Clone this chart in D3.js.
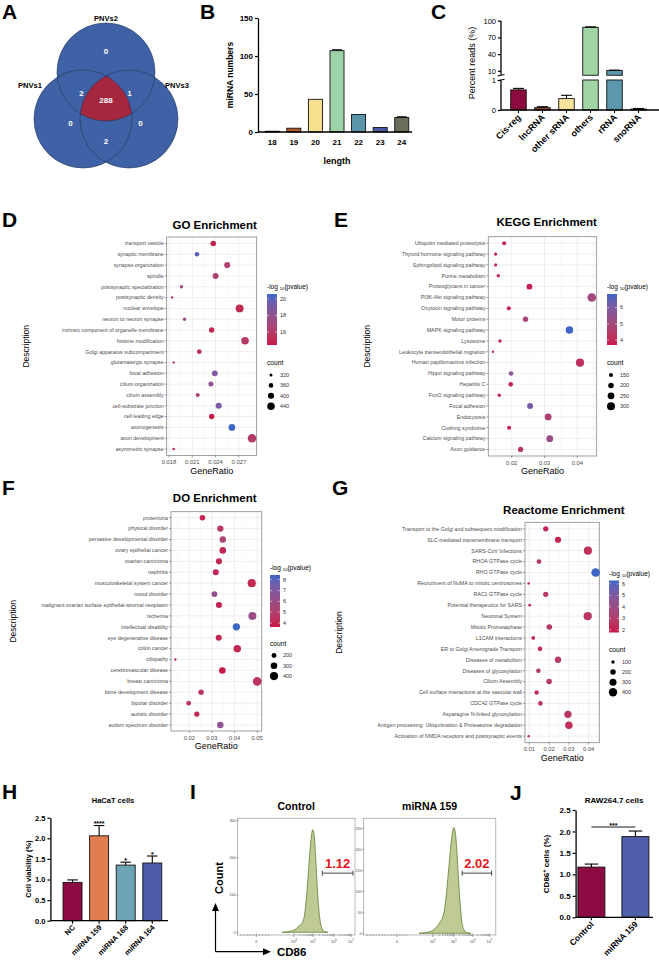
<!DOCTYPE html>
<html>
<head>
<meta charset="utf-8">
<script src="https://cdn.jsdelivr.net/npm/d3@7"></script>
<style>
  body { margin: 0; background: #fff; }
  svg { display: block; }
</style>
</head>
<body>
<div id="root"></div>
<script>
// ---------------- data ----------------
var vennSets = ['PNVs1', 'PNVs2', 'PNVs3'];
var vennRegions = ['PNVs2 only', 'PNVs1&PNVs2', 'PNVs2&PNVs3', 'all', 'PNVs1 only', 'PNVs3 only', 'PNVs1&PNVs3'];
var vennValues = [0, 2, 1, 288, 0, 0, 2];

var lengthCats = ['18', '19', '20', '21', '22', '23', '24'];
var lengthCounts = [1, 5, 43, 107, 23, 6, 19];
var lengthErr = [0, 0, 0, 1.2, 0, 0, 1.0];
var lengthTicks = [0, 50, 100, 150];

var readCats = ['Cis-reg', 'lncRNA', 'other sRNA', 'others', 'rRNA', 'snoRNA'];
var readPct = [0.67, 0.08, 0.38, 88, 10.5, 0.03];
var readErr = [0.05, 0.03, 0.11, 1.0, 0.7, 0.02];
var readTicksLow = [0, 1];
var readTicksHigh = [10, 40, 70, 100];

var goTerms = ['transport vesicle', 'synaptic membrane', 'synapse organization', 'spindle',
  'postsynaptic specialization', 'postsynaptic density', 'nuclear envelope', 'neuron to neuron synapse',
  'intrinsic component of organelle membrane', 'histone modification', 'Golgi apparatus subcompartment',
  'glutamatergic synapse', 'focal adhesion', 'cilium organization', 'cilium assembly',
  'cell-substrate junction', 'cell leading edge', 'axonogenesis', 'axon development', 'asymmetric synapse'];
var goRatio = [0.0237, 0.0216, 0.0255, 0.0240, 0.0196, 0.0184, 0.0271, 0.0200, 0.0235, 0.0278,
  0.0219, 0.0186, 0.0239, 0.0234, 0.0217, 0.0244, 0.0235, 0.0261, 0.0287, 0.0186];
var goCount = [385, 360, 400, 395, 330, 305, 450, 330, 380, 440, 360, 305, 390, 370, 345, 400, 380, 415, 470, 310];
var goLogP = [15.0, 20.0, 16.3, 16.5, 17.2, 16.2, 15.0, 17.3, 14.9, 15.7, 15.3, 16.5, 18.8, 18.0, 16.6, 19.0, 14.4, 20.6, 16.0, 15.6];
var goXTicks = [0.018, 0.021, 0.024, 0.027];
var goPTicks = [16, 18, 20];
var goCountTicks = [320, 360, 400, 440];

var keggTerms = ['Ubiquitin mediated proteolysis', 'Thyroid hormone signaling pathway', 'Sphingolipid signaling pathway',
  'Purine metabolism', 'Proteoglycans in cancer', 'PI3K-Akt signaling pathway', 'Oxytocin signaling pathway',
  'Motor proteins', 'MAPK signaling pathway', 'Lysosome', 'Leukocyte transendothelial migration',
  'Human papillomavirus infection', 'Hippo signaling pathway', 'Hepatitis C', 'FoxO signaling pathway',
  'Focal adhesion', 'Endocytosis', 'Cushing syndrome', 'Calcium signaling pathway', 'Axon guidance'];
var keggRatio = [0.0177, 0.0151, 0.0151, 0.0159, 0.0254, 0.0444, 0.0191, 0.0242, 0.0376, 0.0164,
  0.0143, 0.0408, 0.0198, 0.0197, 0.0162, 0.0256, 0.0311, 0.0192, 0.0316, 0.0227];
var keggCount = [150, 120, 120, 130, 210, 330, 150, 190, 280, 130, 100, 310, 165, 165, 130, 215, 250, 150, 255, 190];
var keggLogP = [3.9, 3.7, 4.0, 4.0, 3.9, 5.0, 3.9, 5.0, 6.83, 4.0, 4.0, 4.2, 5.7, 3.9, 3.9, 6.1, 4.7, 3.9, 5.3, 4.4];
var keggXTicks = [0.02, 0.03, 0.04];
var keggPTicks = [4, 5, 6];
var keggCountTicks = [150, 200, 250, 300];

var doTerms = ['proteinuria', 'physical disorder', 'pervasive developmental disorder', 'ovary epithelial cancer',
  'ovarian carcinoma', 'nephritis', 'musculoskeletal system cancer', 'mood disorder',
  'malignant ovarian surface epithelial-stromal neoplasm', 'ischemia', 'intellectual disability',
  'eye degenerative disease', 'colon cancer', 'ciliopathy', 'cerebrovascular disease', 'breast carcinoma',
  'bone development disease', 'bipolar disorder', 'autistic disorder', 'autism spectrum disorder'];
var doRatio = [0.0258, 0.0337, 0.0348, 0.0348, 0.0331, 0.0317, 0.0476, 0.0311, 0.0331, 0.0479,
  0.0408, 0.0330, 0.0412, 0.0138, 0.0346, 0.0500, 0.0252, 0.0197, 0.0233, 0.0337];
var doCount = [240, 280, 290, 300, 270, 265, 400, 250, 270, 390, 340, 270, 350, 100, 300, 430, 235, 200, 225, 290];
var doLogP = [3.9, 4.8, 5.3, 4.1, 4.1, 4.0, 4.1, 6.3, 4.0, 6.1, 8.43, 4.0, 4.1, 4.2, 3.63, 4.5, 4.6, 4.7, 4.1, 6.5];
var doXTicks = [0.02, 0.03, 0.04, 0.05];
var doPTicks = [4, 5, 6, 7, 8];
var doCountTicks = [200, 300, 400];

var reactTerms = ['Transport to the Golgi and subsequent modification', 'SLC-mediated transmembrane transport',
  'SARS-CoV Infections', 'RHOA GTPase cycle', 'RHO GTPase cycle', 'Recruitment of NuMA to mitotic centrosomes',
  'RAC1 GTPase cycle', 'Potential therapeutics for SARS', 'Neuronal System', 'Mitotic Prometaphase',
  'L1CAM interactions', 'ER to Golgi Anterograde Transport', 'Diseases of metabolism', 'Diseases of glycosylation',
  'Cilium Assembly', 'Cell surface interactions at the vascular wall', 'CDC42 GTPase cycle',
  'Asparagine N-linked glycosylation', 'Antigen processing: Ubiquitination & Proteasome degradation',
  'Activation of NMDA receptors and postsynaptic events'];
var reactRatio = [0.0183, 0.0245, 0.0396, 0.0149, 0.0435, 0.0097, 0.0183, 0.0102, 0.0395, 0.0201,
  0.0120, 0.0154, 0.0245, 0.0146, 0.0200, 0.0137, 0.0156, 0.0295, 0.0300, 0.0097];
var reactCount = [190, 240, 380, 160, 420, 60, 185, 70, 390, 205, 110, 150, 250, 150, 200, 140, 155, 320, 330, 60];
var reactLogP = [2.2, 2.1, 2.4, 3.0, 6.29, 1.77, 2.8, 2.0, 2.7, 2.9, 2.2, 2.3, 2.9, 2.8, 2.8, 2.3, 2.8, 2.8, 2.4, 2.1];
var reactXTicks = [0.01, 0.02, 0.03, 0.04];
var reactPTicks = [2, 3, 4, 5, 6];
var reactCountTicks = [100, 200, 300, 400];

var hacatGroups = ['NC', 'miRNA 159', 'miRNA 168', 'miRNA 164'];
var hacatMean = [0.93, 2.06, 1.35, 1.40];
var hacatErr = [0.06, 0.25, 0.07, 0.17];
var hacatSig = ['', '****', '*', '*'];
var hacatTicks = [0, 0.5, 1.0, 1.5, 2.0, 2.5];

var flowSamples = ['Control', 'miRNA 159'];
var flowGatePct = ['1.12', '2.02'];
var flowXTickLabels = ['0', '10|4', '10|5', '10|6', '10|7'];
var ctrlTickChannel = [161, 481, 643, 821, 966];
var mirTickChannel = [254, 524, 683, 826, 952];
var ctrlYTicks = [0, 100, 200, 300];
var mirYTicks = [0, 50, 100, 150, 200, 250];
var ctrlChannel = [380, 420, 450, 480, 505, 525, 540, 555, 570, 585, 600, 615, 628, 640, 652, 664, 676, 690, 705, 720, 740, 770];
var ctrlCount = [0, 1, 3, 6, 11, 17, 21, 28, 45, 85, 145, 210, 255, 276, 262, 210, 140, 70, 28, 9, 2, 0];
var mirChannel = [420, 460, 490, 520, 545, 565, 580, 595, 610, 625, 640, 655, 670, 683, 695, 707, 719, 732, 745, 760, 780, 810];
var mirCount = [0, 1, 3, 6, 12, 20, 27, 35, 52, 88, 138, 190, 235, 252, 238, 190, 125, 65, 25, 8, 2, 0];
var ctrlGate = [722, 983];
var mirGate = [746, 968];

var rawGroups = ['Control', 'miRNA 159'];
var rawMean = [1.17, 1.88];
var rawErr = [0.07, 0.13];
var rawSig = '***';
var rawTicks = [0, 0.5, 1.0, 1.5, 2.0, 2.5];

// ---------------- setup ----------------
var FONT = "'Liberation Sans', Arial, Helvetica, sans-serif";
var svg = d3.select('#root').append('svg')
  .attr('width', 659)
  .attr('height', 962)
  .style('font-family', FONT);
svg.append('rect').attr('width', 659).attr('height', 962).attr('fill', '#fff');
var defs = svg.append('defs');

var letters = [['A', 2, 19], ['B', 200, 19], ['C', 431, 19], ['D', 2, 227], ['E', 334, 227],
  ['F', 2, 495], ['G', 332, 495], ['H', 2, 799], ['I', 190, 799], ['J', 510, 800]];
svg.selectAll('text.letter')
  .data(letters)
  .join('text')
    .attr('class', 'letter')
    .attr('x', d => d[1])
    .attr('y', d => d[2])
    .attr('font-size', 21)
    .attr('font-weight', 'bold')
    .text(d => d[0]);

// GraphPad-like left axis
function gpAxisLeft(g, scale, ticks, x, fmt, fs, bold, keepDomain) {
  var ax = g.append('g')
    .attr('transform', 'translate(' + x + ',0)')
    .call(d3.axisLeft(scale).tickValues(ticks).tickFormat(fmt).tickSize(3).tickSizeOuter(0).tickPadding(2));
  ax.attr('font-family', null).attr('font-size', null);
  if (keepDomain) ax.select('.domain').attr('stroke', '#000').attr('stroke-width', 1.3);
  else ax.select('.domain').remove();
  ax.selectAll('.tick line').attr('stroke', '#000').attr('stroke-width', 1.2);
  ax.selectAll('.tick text').attr('font-size', fs).attr('font-weight', bold ? 'bold' : 'normal').attr('fill', '#000');
  return ax;
}

function errBars(g, cxs, tops, ends, w) {
  g.selectAll('line.err')
    .data(cxs)
    .join('line')
      .attr('class', 'err')
      .attr('x1', d => d).attr('x2', d => d)
      .attr('y1', (d, i) => tops[i]).attr('y2', (d, i) => ends[i])
      .attr('stroke', '#000').attr('stroke-width', 1.1);
  g.selectAll('line.cap')
    .data(cxs)
    .join('line')
      .attr('class', 'cap')
      .attr('x1', d => d - w / 2).attr('x2', d => d + w / 2)
      .attr('y1', (d, i) => ends[i]).attr('y2', (d, i) => ends[i])
      .attr('stroke', '#000').attr('stroke-width', 1.1);
}

// ---------------- A : Venn ----------------
var vR = 49;
var vC = [{x: 83, y: 119}, {x: 106, y: 72}, {x: 129, y: 119}];
var vennLabelAt = [[106, 51], [81.5, 93], [129.5, 93], [106, 100], [70.5, 123], [140.5, 123], [106, 141]];
var aG = svg.append('g');
defs.append('clipPath').attr('id', 'clipL').append('circle').attr('cx', vC[0].x).attr('cy', vC[0].y).attr('r', vR);
defs.append('clipPath').attr('id', 'clipR').append('circle').attr('cx', vC[2].x).attr('cy', vC[2].y).attr('r', vR);
aG.selectAll('circle.vfill')
  .data(vC)
  .join('circle')
    .attr('class', 'vfill')
    .attr('cx', d => d.x).attr('cy', d => d.y).attr('r', vR)
    .attr('fill', '#3f61a5');
aG.append('g').attr('clip-path', 'url(#clipL)')
  .append('g').attr('clip-path', 'url(#clipR)')
  .append('circle')
    .attr('cx', vC[1].x).attr('cy', vC[1].y).attr('r', vR)
    .attr('fill', '#a4273f');
aG.selectAll('circle.vedge')
  .data(vC)
  .join('circle')
    .attr('class', 'vedge')
    .attr('cx', d => d.x).attr('cy', d => d.y).attr('r', vR)
    .attr('fill', 'none').attr('stroke', '#25365e').attr('stroke-width', 0.6);
aG.selectAll('text.vnum')
  .data(vennValues)
  .join('text')
    .attr('class', 'vnum')
    .attr('x', (d, i) => vennLabelAt[i][0])
    .attr('y', (d, i) => vennLabelAt[i][1])
    .attr('dy', '0.35em')
    .attr('text-anchor', 'middle')
    .attr('font-size', 8)
    .attr('font-weight', 'bold')
    .attr('fill', '#fff')
    .text(d => d);
var setLabelAt = [[30, 88], [106, 20.5], [177, 88]];
aG.selectAll('text.vset')
  .data(vennSets)
  .join('text')
    .attr('class', 'vset')
    .attr('x', (d, i) => setLabelAt[i][0])
    .attr('y', (d, i) => setLabelAt[i][1])
    .attr('text-anchor', 'middle')
    .attr('font-size', 7.5)
    .attr('font-weight', 'bold')
    .text(d => d);

// ---------------- B : length distribution ----------------
var lengthColors = ['#7d1a35', '#b5562c', '#f8e08f', '#9dd3a7', '#5b95aa', '#4a5aa6', '#6b6e5b'];
var bG = svg.append('g');
var bx = d3.scaleBand().domain(lengthCats).range([262, 412]).paddingInner(0.35).paddingOuter(0.15);
var by = d3.scaleLinear().domain([0, 150]).range([132, 18]);
bG.selectAll('rect')
  .data(lengthCats)
  .join('rect')
    .attr('x', d => bx(d))
    .attr('width', bx.bandwidth())
    .attr('y', (d, i) => by(lengthCounts[i]))
    .attr('height', (d, i) => by(0) - by(lengthCounts[i]))
    .attr('fill', (d, i) => lengthColors[i])
    .attr('stroke', '#111').attr('stroke-width', 0.9);
var bIdx = lengthCats.map((d, i) => i).filter(i => lengthErr[i] > 0);
errBars(bG, bIdx.map(i => bx(lengthCats[i]) + bx.bandwidth() / 2),
  bIdx.map(i => by(lengthCounts[i])), bIdx.map(i => by(lengthCounts[i] + lengthErr[i])), bx.bandwidth() * 0.7);
gpAxisLeft(bG, by, lengthTicks, 258, d3.format('d'), 8, true, true);
bG.append('line').attr('x1', 258).attr('x2', 412).attr('y1', 132).attr('y2', 132).attr('stroke', '#000').attr('stroke-width', 1.3);
bG.selectAll('text.xl')
  .data(lengthCats)
  .join('text')
    .attr('class', 'xl')
    .attr('x', d => bx(d) + bx.bandwidth() / 2)
    .attr('y', 145)
    .attr('text-anchor', 'middle')
    .attr('font-size', 8)
    .attr('font-weight', 'bold')
    .text(d => d);
bG.append('text').attr('x', 337).attr('y', 164).attr('text-anchor', 'middle')
  .attr('font-size', 9).attr('font-weight', 'bold').text('length');
bG.append('text').attr('transform', 'translate(233,75) rotate(-90)').attr('text-anchor', 'middle')
  .attr('font-size', 8.5).attr('font-weight', 'bold').text('miRNA numbers');

// ---------------- C : percent reads (broken axis) ----------------
var readColors = ['#8c0b3f', '#9a4a2a', '#f8e39b', '#a2d5a6', '#5b97ad', '#5a5a5a'];
var cG = svg.append('g');
var cxS = d3.scaleBand().domain(readCats).range([503.5, 653.5]).paddingInner(0.354).paddingOuter(0.3);
var cyLow = d3.scaleLinear().domain([0, 1]).range([110, 80]);
var cyHigh = d3.scaleLinear().domain([10, 100]).range([70.8, 20.7]);
var breakLow = cyLow(1), breakHigh = cyHigh(2);
var cbw = cxS.bandwidth();
readCats.forEach((c, i) => {
  var v = readPct[i];
  var x0 = cxS(c);
  if (v <= 1) {
    cG.append('rect').attr('x', x0).attr('width', cbw).attr('y', cyLow(v)).attr('height', cyLow(0) - cyLow(v))
      .attr('fill', readColors[i]).attr('stroke', '#111').attr('stroke-width', 0.9);
  } else {
    cG.append('rect').attr('x', x0).attr('width', cbw).attr('y', breakLow).attr('height', cyLow(0) - breakLow)
      .attr('fill', readColors[i]).attr('stroke', '#111').attr('stroke-width', 0.9);
    cG.append('rect').attr('x', x0).attr('width', cbw).attr('y', cyHigh(v)).attr('height', breakHigh - cyHigh(v))
      .attr('fill', readColors[i]).attr('stroke', '#111').attr('stroke-width', 0.9);
  }
});
var cYs = readPct.map(v => v <= 1 ? cyLow(v) : cyHigh(v));
var cYe = readPct.map((v, i) => v <= 1 ? cyLow(v + readErr[i]) : cyHigh(v + readErr[i]));
errBars(cG, readCats.map(c => cxS(c) + cbw / 2), cYs, cYe, cbw * 0.7);
gpAxisLeft(cG, cyLow, readTicksLow, 501, d3.format('d'), 7.5, false, false);
gpAxisLeft(cG, cyHigh, readTicksHigh, 501, d3.format('d'), 7.5, false, false);
cG.append('line').attr('x1', 501).attr('x2', 501).attr('y1', cyLow(0)).attr('y2', breakLow + 0.6).attr('stroke', '#000').attr('stroke-width', 1.3);
cG.append('line').attr('x1', 501).attr('x2', 501).attr('y1', breakHigh - 0.6).attr('y2', cyHigh(100)).attr('stroke', '#000').attr('stroke-width', 1.3);
[breakHigh, breakLow].forEach(yy => {
  cG.append('line').attr('x1', 497.5).attr('x2', 504.5).attr('y1', yy + 0.8).attr('y2', yy - 0.8)
    .attr('stroke', '#000').attr('stroke-width', 1.1);
});
cG.append('line').attr('x1', 501).attr('x2', 659).attr('y1', 110).attr('y2', 110).attr('stroke', '#000').attr('stroke-width', 1.3);
cG.selectAll('line.ct')
  .data(readCats)
  .join('line')
    .attr('class', 'ct')
    .attr('x1', d => cxS(d) + cbw / 2).attr('x2', d => cxS(d) + cbw / 2)
    .attr('y1', 110).attr('y2', 113)
    .attr('stroke', '#000').attr('stroke-width', 1.1);
cG.selectAll('text.xl')
  .data(readCats)
  .join('text')
    .attr('class', 'xl')
    .attr('transform', d => 'translate(' + (cxS(d) + cbw / 2 + 3) + ',118) rotate(-45)')
    .attr('text-anchor', 'end')
    .attr('font-size', 9)
    .attr('font-weight', 'bold')
    .text(d => d);
cG.append('text').attr('transform', 'translate(475,63) rotate(-90)').attr('text-anchor', 'middle')
  .attr('font-size', 9).text('Percent reads (%)');

// ---------------- D-G : enrichment dot plots ----------------
var LOW_COL = '#c9184a', HIGH_COL = '#3d66c5';

function enrichPanel(o) {
  var g = svg.append('g');
  var b = o.box;
  var x = d3.scaleLinear().domain(o.xDomain).range([b.l, b.r]);
  var y = d3.scalePoint().domain(o.terms).range([b.t, b.b]).padding(o.pad);
  var pExt = d3.extent(o.logp);
  var col = d3.scaleLinear().domain(pExt).range([LOW_COL, HIGH_COL]).interpolate(d3.interpolateLab);
  var rad = d3.scaleSqrt().domain(d3.extent(o.count)).range([1.2, 4.3]);

  var step = o.xTicks[1] - o.xTicks[0];
  var minor = [];
  for (var k = -2; k <= o.xTicks.length + 1; k++) {
    var v = o.xTicks[0] + (k + 0.5) * step;
    if (v > o.xDomain[0] && v < o.xDomain[1]) minor.push(v);
  }
  g.selectAll('line.gmin').data(minor).join('line').attr('class', 'gmin')
    .attr('x1', d => x(d)).attr('x2', d => x(d)).attr('y1', b.t).attr('y2', b.b)
    .attr('stroke', '#f1f1f1').attr('stroke-width', 0.4);
  g.selectAll('line.gmaj').data(o.xTicks).join('line').attr('class', 'gmaj')
    .attr('x1', d => x(d)).attr('x2', d => x(d)).attr('y1', b.t).attr('y2', b.b)
    .attr('stroke', '#e4e4e4').attr('stroke-width', 0.6);
  g.selectAll('line.gy').data(o.terms).join('line').attr('class', 'gy')
    .attr('x1', b.l).attr('x2', b.r).attr('y1', d => y(d)).attr('y2', d => y(d))
    .attr('stroke', '#e4e4e4').attr('stroke-width', 0.6);
  g.append('rect').attr('x', b.l).attr('y', b.t).attr('width', b.r - b.l).attr('height', b.b - b.t)
    .attr('fill', 'none').attr('stroke', '#8a8a8a').attr('stroke-width', 0.8);

  g.selectAll('circle.dot')
    .data(o.terms)
    .join('circle')
      .attr('class', 'dot')
      .attr('cx', (d, i) => x(o.ratio[i]))
      .attr('cy', d => y(d))
      .attr('r', (d, i) => rad(o.count[i]))
      .attr('fill', (d, i) => col(o.logp[i]));

  // y axis
  g.selectAll('line.yt').data(o.terms).join('line').attr('class', 'yt')
    .attr('x1', b.l - 2).attr('x2', b.l).attr('y1', d => y(d)).attr('y2', d => y(d))
    .attr('stroke', '#444').attr('stroke-width', 0.5);
  g.selectAll('text.yl').data(o.terms).join('text').attr('class', 'yl')
    .attr('x', b.l - 3).attr('y', d => y(d)).attr('dy', '0.35em')
    .attr('text-anchor', 'end').attr('font-size', 5.3).attr('fill', '#4d4d4d')
    .text(d => d);
  // x axis
  g.selectAll('line.xt').data(o.xTicks).join('line').attr('class', 'xt')
    .attr('x1', d => x(d)).attr('x2', d => x(d)).attr('y1', b.b).attr('y2', b.b + 2)
    .attr('stroke', '#444').attr('stroke-width', 0.5);
  g.selectAll('text.xl').data(o.xTicks).join('text').attr('class', 'xl')
    .attr('x', d => x(d)).attr('y', b.b + 8.5)
    .attr('text-anchor', 'middle').attr('font-size', 5.8).attr('fill', '#4d4d4d')
    .text(d => o.xFmt(d));

  g.append('text').attr('x', o.titleX).attr('y', o.titleY).attr('text-anchor', 'middle')
    .attr('font-size', 11.5).attr('font-weight', 'bold').text(o.title);
  g.append('text').attr('x', (b.l + b.r) / 2 + o.grDx).attr('y', b.b + 18).attr('text-anchor', 'middle')
    .attr('font-size', 9).text('GeneRatio');
  g.append('text').attr('transform', 'translate(' + o.descX + ',' + ((b.t + b.b) / 2) + ') rotate(-90)')
    .attr('text-anchor', 'middle').attr('font-size', 8.5).text('Description');

  // colour legend
  var L = o.legend;
  var lt = g.append('text').attr('x', L.x).attr('y', L.y).attr('font-size', 6.5);
  lt.append('tspan').text('-log ');
  lt.append('tspan').attr('font-size', 4.3).attr('dy', 1.2).text('10');
  lt.append('tspan').attr('dy', -1.2).text('(pvalue)');
  var gid = 'grad' + o.id;
  var grad = defs.append('linearGradient').attr('id', gid).attr('x1', 0).attr('x2', 0).attr('y1', 1).attr('y2', 0);
  d3.range(0, 1.0001, 0.1).forEach(t => {
    grad.append('stop').attr('offset', t).attr('stop-color', col(pExt[0] + t * (pExt[1] - pExt[0])));
  });
  var barT = L.y + 5, barB = L.y + 5 + L.h;
  g.append('rect').attr('x', L.x).attr('y', barT).attr('width', 10).attr('height', L.h).attr('fill', 'url(#' + gid + ')');
  var ly = d3.scaleLinear().domain(pExt).range([barB, barT]);
  o.pTicks.forEach(t => {
    g.append('line').attr('x1', L.x).attr('x2', L.x + 2).attr('y1', ly(t)).attr('y2', ly(t)).attr('stroke', '#fff').attr('stroke-width', 0.5);
    g.append('line').attr('x1', L.x + 8).attr('x2', L.x + 10).attr('y1', ly(t)).attr('y2', ly(t)).attr('stroke', '#fff').attr('stroke-width', 0.5);
    g.append('text').attr('x', L.x + 13).attr('y', ly(t)).attr('dy', '0.35em').attr('font-size', 5.5).attr('fill', '#333').text(t);
  });
  // size legend
  g.append('text').attr('x', L.x).attr('y', L.cy).attr('font-size', 6.7).text('count');
  g.selectAll('circle.key').data(o.countTicks).join('circle').attr('class', 'key')
    .attr('cx', L.x + 4).attr('cy', (d, i) => L.cy + 10 + i * L.cs)
    .attr('r', d => rad(d)).attr('fill', '#000');
  g.selectAll('text.keyl').data(o.countTicks).join('text').attr('class', 'keyl')
    .attr('x', L.x + 13).attr('y', (d, i) => L.cy + 10 + i * L.cs).attr('dy', '0.35em')
    .attr('font-size', 5.5).attr('fill', '#333').text(d => d);
}

enrichPanel({
  id: 'go', title: 'GO Enrichment', titleX: 214.7, titleY: 229,
  terms: goTerms, ratio: goRatio, count: goCount, logp: goLogP,
  box: {l: 166.7, r: 256.7, t: 237, b: 455.5}, pad: 0.6,
  xDomain: [0.0177, 0.0293], xTicks: goXTicks, xFmt: d3.format('.3f'),
  pTicks: goPTicks, countTicks: goCountTicks, descX: 29, grDx: 0,
  legend: {x: 267, y: 289, h: 51, cy: 365, cs: 10.4}
});
enrichPanel({
  id: 'kegg', title: 'KEGG Enrichment', titleX: 546.7, titleY: 226,
  terms: keggTerms, ratio: keggRatio, count: keggCount, logp: keggLogP,
  box: {l: 488.3, r: 596.7, t: 236.7, b: 456}, pad: 0.6,
  xDomain: [0.01286, 0.0459], xTicks: keggXTicks, xFmt: d3.format('.2f'),
  pTicks: keggPTicks, countTicks: keggCountTicks, descX: 370, grDx: 0,
  legend: {x: 607, y: 289, h: 51, cy: 365, cs: 10.4}
});
enrichPanel({
  id: 'do', title: 'DO Enrichment', titleX: 214.7, titleY: 502,
  terms: doTerms, ratio: doRatio, count: doCount, logp: doLogP,
  box: {l: 171, r: 261.7, t: 511.7, b: 731}, pad: 0.55,
  xDomain: [0.0119, 0.052], xTicks: doXTicks, xFmt: d3.format('.2f'),
  pTicks: doPTicks, countTicks: doCountTicks, descX: 16, grDx: 0,
  legend: {x: 270, y: 570, h: 52, cy: 645.5, cs: 10.3}
});
enrichPanel({
  id: 'react', title: 'Reactome Enrichment', titleX: 563.8, titleY: 514,
  terms: reactTerms, ratio: reactRatio, count: reactCount, logp: reactLogP,
  box: {l: 525, r: 599.3, t: 522.3, b: 742.7}, pad: 0.6,
  xDomain: [0.00783, 0.04535], xTicks: reactXTicks, xFmt: d3.format('.2f'),
  pTicks: reactPTicks, countTicks: reactCountTicks, descX: 342, grDx: 0,
  legend: {x: 609, y: 575.5, h: 52, cy: 652, cs: 10.1}
});

// ---------------- H : HaCaT viability ----------------
var hacatColors = ['#8c0b42', '#e27d4f', '#6ca3b5', '#4e5ca9'];
var hG = svg.append('g');
var hx = d3.scaleBand().domain(hacatGroups).range([52.4, 172.4]).paddingInner(0.286).paddingOuter(0.4);
var hy = d3.scaleLinear().domain([0, 2.5]).range([920.7, 817.7]);
var hbw = hx.bandwidth();
hG.selectAll('rect')
  .data(hacatGroups)
  .join('rect')
    .attr('x', d => hx(d)).attr('width', hbw)
    .attr('y', (d, i) => hy(hacatMean[i])).attr('height', (d, i) => hy(0) - hy(hacatMean[i]))
    .attr('fill', (d, i) => hacatColors[i]).attr('stroke', '#111').attr('stroke-width', 0.9);
errBars(hG, hacatGroups.map(d => hx(d) + hbw / 2), hacatMean.map(v => hy(v)),
  hacatMean.map((v, i) => hy(v + hacatErr[i])), hbw * 0.55);
hG.selectAll('text.sig')
  .data(hacatSig)
  .join('text')
    .attr('class', 'sig')
    .attr('x', (d, i) => hx(hacatGroups[i]) + hbw / 2)
    .attr('y', (d, i) => hy(hacatMean[i] + hacatErr[i]) + 0.5)
    .attr('text-anchor', 'middle').attr('font-size', 7).attr('font-weight', 'bold')
    .text(d => d);
gpAxisLeft(hG, hy, hacatTicks, 50.4, d3.format('.1f'), 7.5, true, true);
hG.append('line').attr('x1', 50.4).attr('x2', 168).attr('y1', 920.7).attr('y2', 920.7).attr('stroke', '#000').attr('stroke-width', 1.3);
hG.selectAll('line.xt')
  .data(hacatGroups)
  .join('line')
    .attr('class', 'xt')
    .attr('x1', d => hx(d) + hbw / 2).attr('x2', d => hx(d) + hbw / 2)
    .attr('y1', 920.7).attr('y2', 923.7).attr('stroke', '#000').attr('stroke-width', 1.1);
hG.selectAll('text.xl')
  .data(hacatGroups)
  .join('text')
    .attr('class', 'xl')
    .attr('transform', d => 'translate(' + (hx(d) + hbw / 2 + 3) + ',928) rotate(-45)')
    .attr('text-anchor', 'end').attr('font-size', 7.5).attr('font-weight', 'bold')
    .text(d => d);
hG.append('text').attr('x', 113).attr('y', 803).attr('text-anchor', 'middle')
  .attr('font-size', 7.5).attr('font-weight', 'bold').text('HaCaT cells');
hG.append('text').attr('transform', 'translate(31,869) rotate(-90)').attr('text-anchor', 'middle')
  .attr('font-size', 7.5).attr('font-weight', 'bold').text('Cell viability (%)');

// ---------------- I : flow histograms ----------------
function flowPanel(box, title, channels, counts, tickCh, yTicks, yRange, gate, pct) {
  var g = svg.append('g');
  var x = d3.scaleLinear().domain([0, 1000]).range([box.l, box.r]);
  var y = d3.scaleLinear().domain([0, yTicks[yTicks.length - 1]]).range(yRange);
  g.append('rect').attr('x', box.l).attr('y', box.t).attr('width', box.r - box.l).attr('height', box.b - box.t)
    .attr('fill', '#fff').attr('stroke', '#9a9a9a').attr('stroke-width', 0.7);
  var area = d3.area()
    .x((d, i) => x(channels[i]))
    .y0(y(0))
    .y1(d => y(d))
    .curve(d3.curveMonotoneX);
  g.append('path').datum(counts).attr('d', area)
    .attr('fill', '#bfca95').attr('stroke', '#5f7d33').attr('stroke-width', 0.8);
  // y ticks
  g.selectAll('line.yt').data(yTicks).join('line').attr('class', 'yt')
    .attr('x1', box.l - 1.5).attr('x2', box.l + 1).attr('y1', d => y(d)).attr('y2', d => y(d))
    .attr('stroke', '#555').attr('stroke-width', 0.4);
  g.selectAll('text.yl').data(yTicks).join('text').attr('class', 'yl')
    .attr('x', box.l - 2).attr('y', d => y(d)).attr('dy', '0.35em')
    .attr('text-anchor', 'end').attr('font-size', 3.6).attr('fill', '#444').text(d => d);
  // x ticks: major + minor
  var minor = [];
  for (var k = 1; k < tickCh.length - 1; k++) {
    for (var m = 2; m < 10; m++) minor.push(tickCh[k] + Math.log10(m) * (tickCh[k + 1] - tickCh[k]));
  }
  var negStep = (tickCh[1] - tickCh[0]) / 12;
  for (var c = tickCh[0] - negStep; c > 15; c -= negStep) minor.push(c);
  for (var c2 = tickCh[0] + negStep; c2 < tickCh[0] + 4 * negStep; c2 += negStep) minor.push(c2);
  g.selectAll('line.xm').data(minor).join('line').attr('class', 'xm')
    .attr('x1', d => x(d)).attr('x2', d => x(d)).attr('y1', box.b - 1).attr('y2', box.b + 1)
    .attr('stroke', '#555').attr('stroke-width', 0.35);
  g.selectAll('line.xt').data(tickCh).join('line').attr('class', 'xt')
    .attr('x1', d => x(d)).attr('x2', d => x(d)).attr('y1', box.b - 1.5).attr('y2', box.b + 2)
    .attr('stroke', '#555').attr('stroke-width', 0.5);
  var xl = g.selectAll('text.xl').data(flowXTickLabels).join('text').attr('class', 'xl')
    .attr('x', (d, i) => x(tickCh[i])).attr('y', box.b + 7.5)
    .attr('text-anchor', 'middle').attr('font-size', 3.8).attr('fill', '#444');
  xl.each(function (d) {
    var parts = d.split('|');
    var t = d3.select(this);
    t.append('tspan').text(parts[0]);
    if (parts[1]) t.append('tspan').attr('font-size', 2.8).attr('dy', -1.5).text(parts[1]);
  });
  // gate
  var gy = box.t + (box.b - box.t) * 0.47;
  g.append('line').attr('x1', x(gate[0])).attr('x2', x(gate[1])).attr('y1', gy).attr('y2', gy).attr('stroke', '#333').attr('stroke-width', 0.9);
  gate.forEach(gc => {
    g.append('line').attr('x1', x(gc)).attr('x2', x(gc)).attr('y1', gy - 2.5).attr('y2', gy + 2.5).attr('stroke', '#333').attr('stroke-width', 0.9);
  });
  g.append('text').attr('x', (x(gate[0]) + x(gate[1])) / 2).attr('y', gy - 5)
    .attr('text-anchor', 'middle').attr('font-size', 13).attr('font-weight', 'bold').attr('fill', '#e5141c').text(pct);
  g.append('text').attr('x', (box.l + box.r) / 2).attr('y', 810).attr('text-anchor', 'middle')
    .attr('font-size', 10.5).attr('font-weight', 'bold').text(title);
}
flowPanel({l: 237.4, r: 355, t: 818.3, b: 935}, flowSamples[0], ctrlChannel, ctrlCount, ctrlTickChannel,
  ctrlYTicks, [932.3, 820.7], ctrlGate, flowGatePct[0]);
flowPanel({l: 363.4, r: 495.8, t: 818.3, b: 935}, flowSamples[1], mirChannel, mirCount, mirTickChannel,
  mirYTicks, [933.3, 828.3], mirGate, flowGatePct[1]);

var iG = svg.append('g');
iG.append('text').attr('transform', 'translate(223,878) rotate(-90)').attr('text-anchor', 'middle')
  .attr('font-size', 11).attr('font-weight', 'bold').text('Count');
iG.append('line').attr('x1', 215.5).attr('x2', 215.5).attr('y1', 951.7).attr('y2', 908).attr('stroke', '#000').attr('stroke-width', 1.2);
iG.append('line').attr('x1', 215.5).attr('x2', 266).attr('y1', 951.7).attr('y2', 951.7).attr('stroke', '#000').attr('stroke-width', 1.2);
iG.append('path').attr('d', 'M215.5,903 L212,911 L219,911 Z').attr('fill', '#000');
iG.append('path').attr('d', 'M271,951.7 L263,948.2 L263,955.2 Z').attr('fill', '#000');
iG.append('text').attr('x', 277).attr('y', 956).attr('font-size', 11.5).attr('font-weight', 'bold').text('CD86');

// ---------------- J : RAW264.7 CD86+ ----------------
var rawColors = ['#8c0b42', '#4e5ea9'];
var jG = svg.append('g');
var jx = d3.scaleBand().domain(rawGroups).range([575.6, 651.2]).paddingInner(0.386).paddingOuter(0.052);
var jy = d3.scaleLinear().domain([0, 2.5]).range([917.3, 810]);
var jbw = jx.bandwidth();
jG.selectAll('rect')
  .data(rawGroups)
  .join('rect')
    .attr('x', d => jx(d)).attr('width', jbw)
    .attr('y', (d, i) => jy(rawMean[i])).attr('height', (d, i) => jy(0) - jy(rawMean[i]))
    .attr('fill', (d, i) => rawColors[i]).attr('stroke', '#111').attr('stroke-width', 0.9);
errBars(jG, rawGroups.map(d => jx(d) + jbw / 2), rawMean.map(v => jy(v)),
  rawMean.map((v, i) => jy(v + rawErr[i])), jbw * 0.5);
gpAxisLeft(jG, jy, rawTicks, 575.6, d3.format('.1f'), 8, true, true);
jG.append('line').attr('x1', 575.6).attr('x2', 653).attr('y1', 917.3).attr('y2', 917.3).attr('stroke', '#000').attr('stroke-width', 1.3);
jG.selectAll('line.xt')
  .data(rawGroups)
  .join('line')
    .attr('class', 'xt')
    .attr('x1', d => jx(d) + jbw / 2).attr('x2', d => jx(d) + jbw / 2)
    .attr('y1', 917.3).attr('y2', 920.3).attr('stroke', '#000').attr('stroke-width', 1.1);
jG.selectAll('text.xl')
  .data(rawGroups)
  .join('text')
    .attr('class', 'xl')
    .attr('transform', d => 'translate(' + (jx(d) + jbw / 2 + 3) + ',925) rotate(-45)')
    .attr('text-anchor', 'end').attr('font-size', 8.5).attr('font-weight', 'bold')
    .text(d => d);
var sigY = jy(rawMean[1] + rawErr[1]) - 4;
jG.append('line').attr('x1', jx(rawGroups[0]) + jbw / 2).attr('x2', jx(rawGroups[1]) + jbw / 2)
  .attr('y1', sigY).attr('y2', sigY).attr('stroke', '#000').attr('stroke-width', 0.9);
jG.append('text').attr('x', (jx(rawGroups[0]) + jx(rawGroups[1])) / 2 + jbw / 2).attr('y', sigY + 0.5)
  .attr('text-anchor', 'middle').attr('font-size', 7).attr('font-weight', 'bold').text(rawSig);
jG.append('text').attr('x', 614).attr('y', 803).attr('text-anchor', 'middle')
  .attr('font-size', 8).attr('font-weight', 'bold').text('RAW264.7 cells');
var jyl = jG.append('text').attr('transform', 'translate(549,864) rotate(-90)').attr('text-anchor', 'middle')
  .attr('font-size', 8).attr('font-weight', 'bold');
jyl.append('tspan').text('CD86');
jyl.append('tspan').attr('font-size', 5.5).attr('dy', -3).text('+');
jyl.append('tspan').attr('dy', 3).text(' cells (%)');
</script>
</body>
</html>
